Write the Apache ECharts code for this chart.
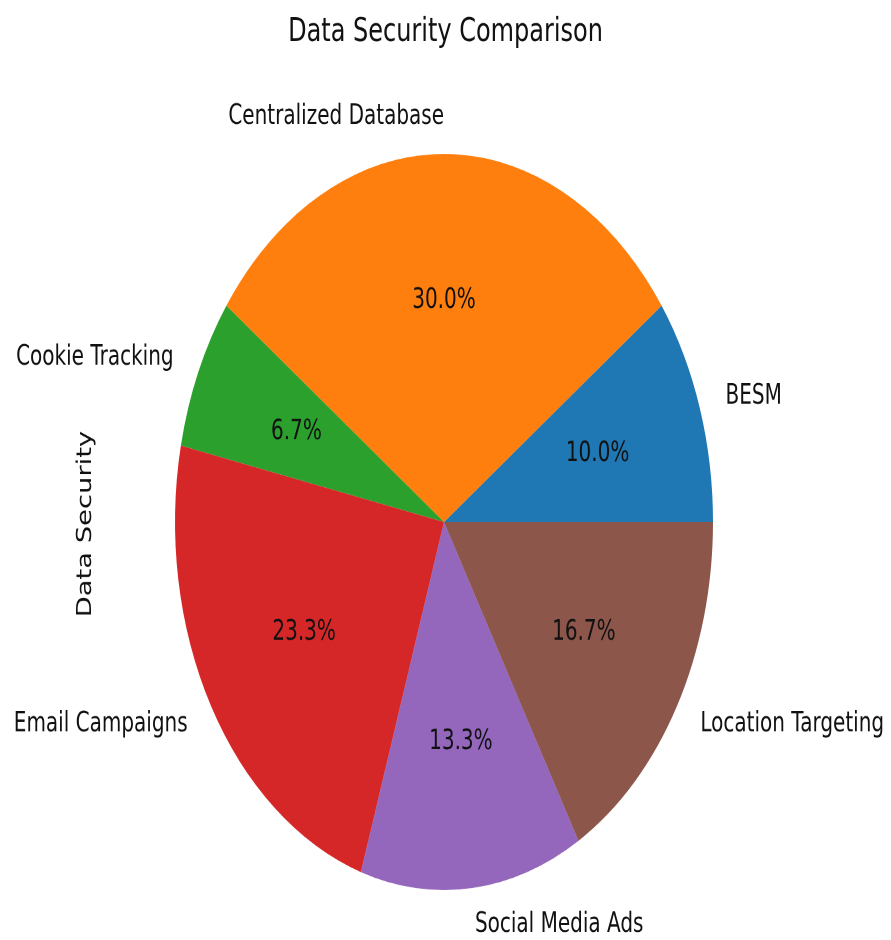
<!DOCTYPE html>
<html>
<head>
<meta charset="utf-8">
<script src="https://cdn.jsdelivr.net/npm/echarts@6/dist/echarts.min.js"></script>
<style>
  html, body { margin: 0; padding: 0; background: #fff; overflow: hidden; }
  #stage { width: 891px; height: 940px; overflow: hidden; }
  /* the figure is laid out on a 891x687 canvas and stretched vertically */
  #chart { width: 891px; height: 687px; transform: scaleY(1.3683); transform-origin: 0 0; }
</style>
</head>
<body>
<div id="stage"><div id="chart"></div></div>
<script>
// Slice names and their counts
const categories = ['BESM', 'Centralized Database', 'Cookie Tracking', 'Email Campaigns', 'Social Media Ads', 'Location Targeting'];
const counts = [3, 9, 2, 7, 4, 5];
const sliceColors = ['#1f77b4', '#ff7f0e', '#2ca02c', '#d62728', '#9467bd', '#8c564b'];
const titleText = 'Data Security Comparison';
const axisLabelText = 'Data Security';

const FONT = 'DejaVu Sans';
const INK = '#111';
const total = counts.reduce((a, b) => a + b, 0);

const pieData = categories.map((name, i) => ({
  name: name,
  value: counts[i],
  itemStyle: { color: sliceColors[i] }
}));

const center = [444, 381.5];
const R = 269;

const chart = echarts.init(document.getElementById('chart'), null, { renderer: 'canvas', devicePixelRatio: 2 });

chart.setOption({
  animation: false,
  backgroundColor: '#fff',
  title: {
    text: titleText,
    left: 'center',
    top: 7,
    textStyle: { fontFamily: FONT, fontSize: 24, fontWeight: 'normal', color: INK }
  },
  graphic: [{
    type: 'text',
    x: 86,
    y: 383,
    rotation: Math.PI / 2,
    style: {
      text: axisLabelText,
      fontFamily: FONT,
      fontSize: 20,
      fill: INK,
      align: 'center',
      verticalAlign: 'middle'
    }
  }],
  series: [
    {
      // coloured wedges with their names outside
      type: 'pie',
      center: center,
      radius: R,
      startAngle: 0,
      clockwise: false,
      avoidLabelOverlap: false,
      silent: true,
      itemStyle: { borderWidth: 0 },
      emphasis: { disabled: true },
      label: {
        show: true,
        position: 'outside',
        formatter: '{b}',
        fontFamily: FONT,
        fontSize: 20,
        color: INK,
        textBorderWidth: 0,
        verticalAlign: 'middle'
      },
      labelLine: { show: false, length: 27, length2: -5 },
      // a name sitting right on the vertical axis hangs to the left of it
      labelLayout: function (p) {
        if (Math.abs(p.labelRect.x - center[0]) < 1.5) {
          return { align: 'right' };
        }
        return {};
      },
      data: pieData
    },
    {
      // percentage text inside each wedge
      type: 'pie',
      center: center,
      radius: [48, R],
      startAngle: 0,
      clockwise: false,
      silent: true,
      itemStyle: { color: 'rgba(0,0,0,0)', borderWidth: 0 },
      emphasis: { disabled: true },
      label: {
        show: true,
        position: 'inside',
        formatter: function (p) { return (p.value / total * 100).toFixed(1) + '%'; },
        fontFamily: FONT,
        fontSize: 20,
        color: INK,
        textBorderWidth: 0
      },
      labelLine: { show: false },
      data: categories.map((name, i) => ({ name: name, value: counts[i] }))
    }
  ]
});
</script>
</body>
</html>
